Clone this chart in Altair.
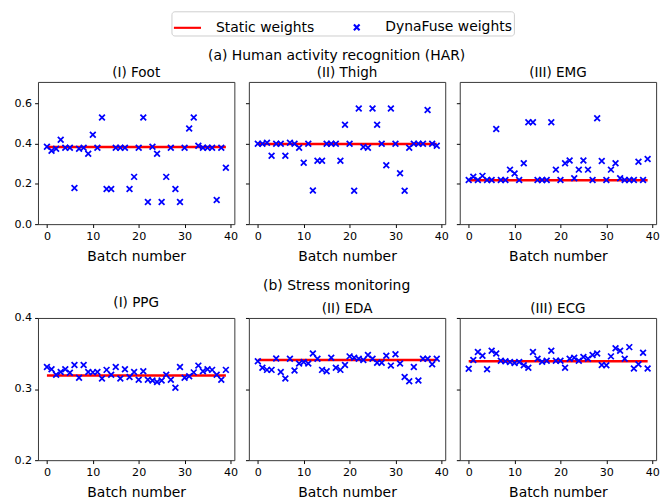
import altair as alt
import pandas as pd

FONT = "DejaVu Sans"
SERIES = ["Static weights", "DynaFuse weights"]
batches = list(range(40))

# (a) HAR
har_foot = [0.385,0.365,0.375,0.42,0.38,0.38,0.18,0.375,0.38,0.35,0.445,0.38,0.53,0.175,0.175,0.38,0.38,0.38,0.175,0.235,
            0.38,0.53,0.11,0.385,0.35,0.11,0.235,0.38,0.175,0.11,0.38,0.475,0.53,0.39,0.38,0.38,0.38,0.12,0.38,0.28]
har_thigh = [0.40,0.40,0.405,0.34,0.40,0.40,0.34,0.405,0.40,0.38,0.305,0.40,0.167,0.315,0.315,0.40,0.40,0.40,0.315,0.494,
             0.40,0.166,0.575,0.384,0.38,0.575,0.494,0.40,0.293,0.575,0.40,0.253,0.166,0.38,0.40,0.40,0.40,0.567,0.40,0.39]
har_emg = [0.22,0.236,0.22,0.24,0.22,0.22,0.473,0.22,0.22,0.271,0.252,0.22,0.303,0.507,0.507,0.22,0.22,0.22,0.507,0.271,
           0.22,0.303,0.316,0.228,0.271,0.316,0.271,0.22,0.527,0.314,0.22,0.271,0.303,0.228,0.22,0.22,0.22,0.31,0.22,0.324]
har_static = [0.383, 0.399, 0.218]

# (b) Stress monitoring
st_ppg = [0.331,0.328,0.320,0.324,0.328,0.323,0.334,0.316,0.334,0.324,0.3235,0.324,0.315,0.327,0.320,0.331,0.315,0.328,0.317,0.324,
          0.313,0.325,0.313,0.312,0.310,0.312,0.320,0.313,0.302,0.331,0.316,0.318,0.3235,0.333,0.325,0.328,0.327,0.320,0.313,0.327]
st_eda = [0.339,0.330,0.327,0.327,0.343,0.324,0.315,0.3425,0.326,0.336,0.338,0.336,0.350,0.3425,0.327,0.325,0.344,0.330,0.327,0.334,
          0.346,0.344,0.3425,0.341,0.348,0.3425,0.337,0.337,0.347,0.333,0.349,0.336,0.317,0.311,0.331,0.312,0.3425,0.3425,0.335,0.3425]
st_ecg = [0.3285,0.341,0.352,0.347,0.328,0.354,0.350,0.340,0.339,0.338,0.3367,0.338,0.3335,0.330,0.352,0.3425,0.3385,0.340,0.354,0.340,
          0.340,0.330,0.3425,0.344,0.340,0.345,0.3425,0.348,0.350,0.334,0.3335,0.346,0.3575,0.354,0.3425,0.359,0.329,0.335,0.351,0.329]
st_static = [0.319, 0.341, 0.339]

XPATH = "M-0.21,-0.21L0.21,0.21M-0.21,0.21L0.21,-0.21"

color_scale = alt.Scale(domain=SERIES, range=["#ff0000", "#0000ff"])
shape_scale = alt.Scale(domain=SERIES, range=["stroke", XPATH])
legend = alt.Legend(
    title=None, orient="none", legendX=138, legendY=-73, direction="horizontal",
    symbolSize=784, symbolStrokeWidth=2.2, labelFontSize=14.4, labelFont=FONT,
    labelColor="black", strokeColor="#cccccc", fillColor="white", padding=1,
    cornerRadius=3, columnPadding=28, labelOffset=14,
)

PW, PH = 203, 147


def panel(title, dyn, static, ydom, yticks, show_labels):
    df_dyn = pd.DataFrame({"batch": batches, "w": dyn, "series": SERIES[1]})
    df_st = pd.DataFrame({"batch": batches, "w": [static] * len(batches), "series": SERIES[0]})
    x = alt.X("batch:Q", scale=alt.Scale(domain=[-1.95, 40.85], nice=False, zero=False),
              axis=alt.Axis(values=[0, 10, 20, 30, 40], title="Batch number", grid=False))
    y = alt.Y("w:Q", scale=alt.Scale(domain=ydom, nice=False, zero=False),
              axis=alt.Axis(values=yticks, title=None, grid=False, labels=show_labels, format=".1f"))
    line = alt.Chart(df_st).mark_line(strokeWidth=2.6).encode(
        x=x, y=y, color=alt.Color("series:N", scale=color_scale, legend=legend))
    pts = alt.Chart(df_dyn).mark_point(filled=False, size=800, strokeWidth=1.8, opacity=1).encode(
        x=x, y=y,
        color=alt.Color("series:N", scale=color_scale, legend=legend),
        shape=alt.Shape("series:N", scale=shape_scale, legend=legend))
    return alt.layer(line, pts).properties(
        width=PW, height=PH,
        title=alt.TitleParams(title, fontSize=14, font=FONT, fontWeight="normal", offset=2))


row_a = alt.hconcat(
    panel("(I) Foot", har_foot, har_static[0], [0, 0.707], [0, 0.2, 0.4, 0.6], True),
    panel("(II) Thigh", har_thigh, har_static[1], [0, 0.707], [0, 0.2, 0.4, 0.6], False),
    panel("(III) EMG", har_emg, har_static[2], [0, 0.707], [0, 0.2, 0.4, 0.6], False),
    spacing=6,
).properties(title=alt.TitleParams("(a) Human activity recognition (HAR)", fontSize=14.4, font=FONT,
                                   fontWeight="normal", anchor="middle", offset=3))

row_b = alt.hconcat(
    panel("(I) PPG", st_ppg, st_static[0], [0.2, 0.4], [0.2, 0.3, 0.4], True),
    panel("(II) EDA", st_eda, st_static[1], [0.2, 0.4], [0.2, 0.3, 0.4], False),
    panel("(III) ECG", st_ecg, st_static[2], [0.2, 0.4], [0.2, 0.3, 0.4], False),
    spacing=6,
).properties(title=alt.TitleParams("(b) Stress monitoring", fontSize=14.4, font=FONT,
                                   fontWeight="normal", anchor="middle", offset=3))

chart = alt.vconcat(row_a, row_b, spacing=15).resolve_scale(
    color="shared", shape="shared"
).properties(padding={"left": 5, "top": -6, "right": 0, "bottom": 0}).configure_view(
    stroke="#333333", strokeWidth=1
).configure_axis(
    domain=False, tickColor="black", tickSize=3.5, labelFontSize=11.5, labelFont=FONT,
    labelColor="black", titleFontSize=14.4, titleFont=FONT, titleFontWeight="normal",
    titleColor="black", labelPadding=3, titlePadding=9
).configure_title(color="black")

chart.save("out.html", embed_options={"renderer": "svg", "actions": False})
